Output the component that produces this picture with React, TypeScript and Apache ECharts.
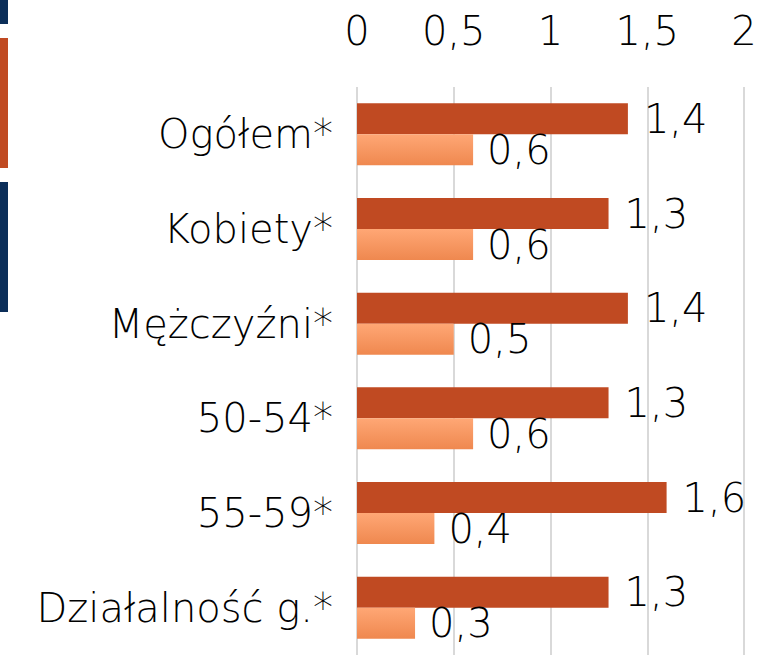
import React, { useEffect, useRef } from "react";
import * as echarts from "echarts";

const categories = ["Ogółem*", "Kobiety*", "Mężczyźni*", "50-54*", "55-59*", "Działalność g.*"];
const seriesDark = [1.4, 1.3, 1.4, 1.3, 1.6, 1.3];
const seriesLight = [0.6, 0.6, 0.5, 0.6, 0.4, 0.3];
const tickMin = 0;
const tickMax = 2;
const tickStep = 0.5;

const FONT = "DejaVu Sans";
const WEIGHT = 300;
const fmt = (v: number) => String(v).replace(".", ",");

export default function App() {
  const ref = useRef<HTMLDivElement>(null);
  useEffect(() => {
    if (!ref.current) return;
    const chart = echarts.init(ref.current, null, { renderer: "svg" });
    chart.setOption({
      animation: false,
      backgroundColor: "#ffffff",
      textStyle: { fontFamily: FONT, fontWeight: WEIGHT },
      grid: { left: 357, top: 87, width: 387, height: 574, containLabel: false },
      xAxis: {
        type: "value",
        position: "top",
        min: tickMin,
        max: tickMax,
        interval: tickStep,
        axisLine: { show: false },
        axisTick: { show: false },
        axisLabel: {
          fontSize: 40,
          fontFamily: FONT,
          fontWeight: WEIGHT,
          color: "#000",
          margin: 36,
          formatter: (v: number) => fmt(v),
        },
        splitLine: { show: true, lineStyle: { color: "#d9d9d9", width: 2 } },
      },
      yAxis: {
        type: "category",
        inverse: true,
        data: categories,
        axisLine: { show: false },
        axisTick: { show: false },
        axisLabel: { fontSize: 40, fontFamily: FONT, fontWeight: WEIGHT, color: "#000", margin: 24 },
        splitLine: { show: false },
      },
      series: [
        {
          type: "bar",
          data: seriesDark,
          barWidth: 31,
          barGap: "0%",
          itemStyle: { color: "#c04a22" },
          label: {
            show: true,
            position: "right",
            distance: 16,
            fontSize: 40,
            fontFamily: FONT,
            fontWeight: WEIGHT,
            color: "#000",
            formatter: (p: any) => fmt(p.value),
          },
        },
        {
          type: "bar",
          data: seriesLight,
          barWidth: 31,
          barGap: "0%",
          itemStyle: {
            color: new echarts.graphic.LinearGradient(0, 0, 0, 1, [
              { offset: 0, color: "#ffa775" },
              { offset: 1, color: "#ef884f" },
            ]),
          },
          label: {
            show: true,
            position: "right",
            distance: 14,
            fontSize: 40,
            fontFamily: FONT,
            fontWeight: WEIGHT,
            color: "#000",
            formatter: (p: any) => fmt(p.value),
          },
        },
      ],
      graphic: [
        { type: "rect", left: 0, top: 0, shape: { width: 8, height: 24 }, style: { fill: "#0b2e59" } },
        { type: "rect", left: 0, top: 38, shape: { width: 8, height: 130 }, style: { fill: "#c04a22" } },
        { type: "rect", left: 0, top: 182, shape: { width: 8, height: 130 }, style: { fill: "#0b2e59" } },
      ],
    });
    return () => chart.dispose();
  }, []);
  return (
    <div
      ref={ref}
      style={{ position: "fixed", left: 0, top: 0, width: 761, height: 655, background: "#fff" }}
    />
  );
}
